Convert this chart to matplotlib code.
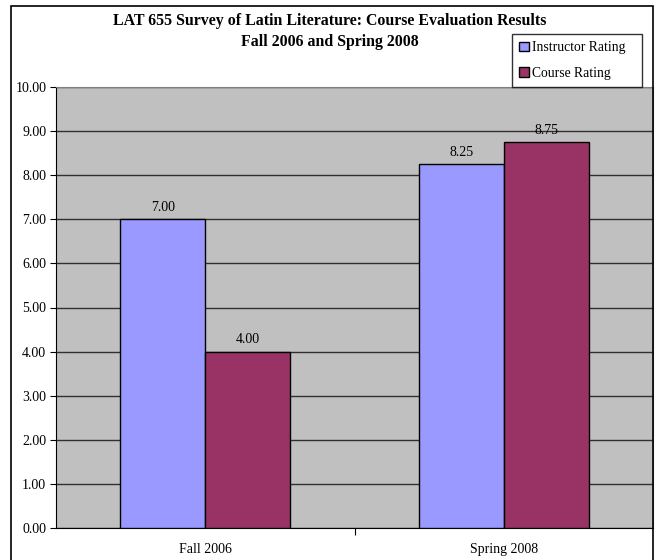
import matplotlib.pyplot as plt
import numpy as np
from matplotlib.patches import Rectangle

# ------------ DATA ------------
terms = ["Fall 2006", "Spring 2008"]
instructor_rating = [7.00, 8.25]
course_rating = [4.00, 8.75]
y_ticks = [0, 1, 2, 3, 4, 5, 6, 7, 8, 9, 10]

plt.rcParams['font.family'] = ['Liberation Serif', 'DejaVu Serif']

fig = plt.figure(figsize=(6.57, 5.6), dpi=100)
ax = fig.add_axes([56 / 657, 1 - 528 / 560, 597 / 657, 441 / 560])
ax.set_facecolor("#C0C0C0")

x = np.arange(len(terms))
width = 0.285
bars_i = ax.bar(x - width / 2, instructor_rating, width, color="#9999FF",
                edgecolor="black", linewidth=1, label="Instructor Rating", zorder=3)
bars_c = ax.bar(x + width / 2, course_rating, width, color="#993366",
                edgecolor="black", linewidth=1, label="Course Rating", zorder=3)

for bars, vals in [(bars_i, instructor_rating), (bars_c, course_rating)]:
    for b, v in zip(bars, vals):
        ax.annotate(f"{v:.2f}", (b.get_x() + b.get_width() / 2, v),
                    xytext=(0, 4), textcoords="offset points",
                    ha="center", va="bottom", fontsize=10)

ax.set_xlim(-0.5, 1.5)
ax.set_ylim(0, 10)
ax.set_yticks(y_ticks)
ax.set_yticklabels([f"{t:.2f}" for t in y_ticks], fontsize=10)
ax.yaxis.grid(True, color="#303030", linewidth=1, zorder=0)
ax.set_axisbelow(True)

# category labels without ticks, ticks at category boundaries
ax.set_xticks([0.5])
ax.set_xticklabels([""])
ax.tick_params(axis="x", direction="out", length=5, color="black")
ax.tick_params(axis="y", direction="out", length=4, color="black", pad=3)
for xi, t in zip(x, terms):
    ax.text(xi, -0.33, t, ha="center", va="top", fontsize=10,
            transform=ax.transData, clip_on=False)

for side in ["top", "right"]:
    ax.spines[side].set_color("#808080")
ax.spines["left"].set_color("black")
ax.spines["bottom"].set_color("black")

fig.text(330 / 657, 1 - 21 / 560, "LAT 655 Survey of Latin Literature: Course Evaluation Results",
         ha="center", va="center", fontsize=11.4, fontweight="bold")
fig.text(330 / 657, 1 - 42 / 560, "Fall 2006 and Spring 2008",
         ha="center", va="center", fontsize=11.4, fontweight="bold")

leg = fig.legend(handles=[bars_i, bars_c], loc="upper left", mode="expand",
                 bbox_to_anchor=(512 / 657, 1 - 88 / 560, 130 / 657, 54 / 560),
                 fontsize=9.8, frameon=True, fancybox=False, edgecolor="black",
                 handlelength=0.7, handleheight=0.7, handletextpad=0.2,
                 labelspacing=0.9, borderpad=0.55, borderaxespad=0)
leg.get_frame().set_linewidth(1)

# outer chart border
fig.patches.append(Rectangle((11 / 657, -0.05), 642 / 657, 1.05 - 6 / 560,
                             transform=fig.transFigure, fill=False,
                             edgecolor="black", linewidth=1.2))

plt.savefig("out.png", dpi=100)
